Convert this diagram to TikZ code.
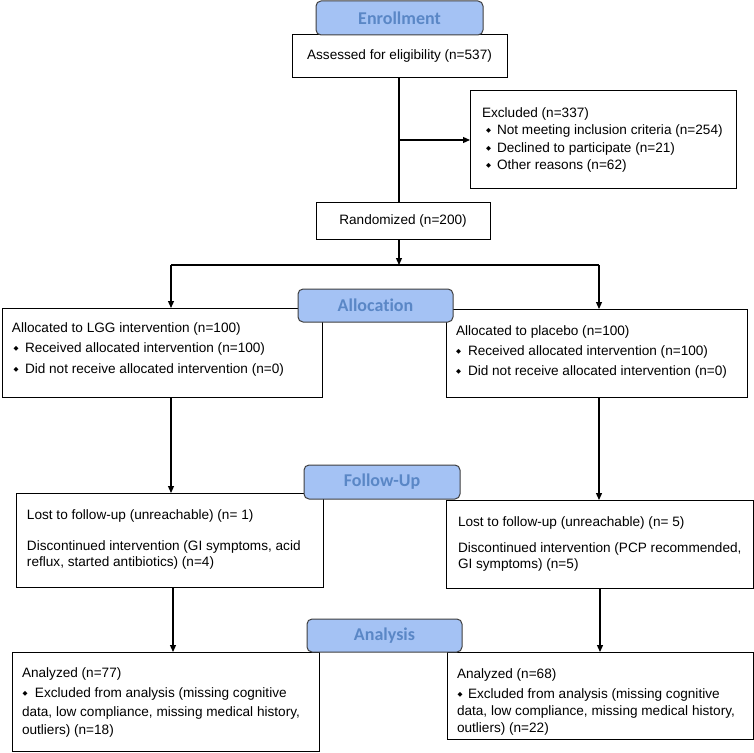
\documentclass[tikz,border=0pt]{standalone}
\usepackage{fontspec}
\setmainfont{Liberation Sans}
\newfontfamily\hdrfont[Ligatures=NoCommon]{Carlito}
\newfontfamily\symfont{DejaVu Sans}
\usetikzlibrary{arrows.meta,calc}
\definecolor{hdrfill}{HTML}{A4C2F4}
\definecolor{hdrtext}{HTML}{5A87C6}
\definecolor{hdrline}{HTML}{3F3F3F}
\newcommand{\bodyfont}{\fontsize{13.6}{16}\selectfont}
\newcommand{\bul}[1]{\makebox[#1][l]{\raisebox{1.3pt}{\symfont\fontsize{6.5}{6.5}\selectfont ◆}}}
\begin{document}
\begin{tikzpicture}[x=1pt,y=-1pt,
  box/.style={draw=black, line width=1pt, inner sep=0pt, outer sep=0pt, fill=white, anchor=north west, font=\bodyfont},
  hdr/.style={draw=hdrline, line width=1pt, fill=hdrfill, rounded corners=5pt, inner sep=0pt, outer sep=0pt, anchor=north west, font=\hdrfont\bfseries\fontsize{18}{18}\selectfont, text=hdrtext},
  txt/.style={anchor=base west, inner sep=0pt, outer sep=0pt, font=\bodyfont},
  ln/.style={line width=1.2pt},
  arr/.style={line width=1.2pt, -{Triangle[length=7pt,width=6pt]}}]
\useasboundingbox (0,0) rectangle (754,752);

% boxes
\node[box, minimum width=215pt, minimum height=42pt] (assess) at (292,35) {Assessed for eligibility (n=537)};
\node[box, minimum width=266pt, minimum height=98pt] (excl) at (470,90) {};
\node[box, minimum width=174pt, minimum height=37pt] (rand) at (316,202) {Randomized (n=200)};
\node[box, minimum width=320pt, minimum height=89pt] (allocL) at (2,308) {};
\node[box, minimum width=301pt, minimum height=88pt] (allocR) at (446,309) {};
\node[box, minimum width=307pt, minimum height=94pt] (fuL) at (16,493) {};
\node[box, minimum width=307pt, minimum height=88pt] (fuR) at (446,500) {};
\node[box, minimum width=307pt, minimum height=99pt] (anL) at (12,652) {};
\node[box, minimum width=306pt, minimum height=87pt] (anR) at (447,652) {};

% texts
\node[txt] (ex1) at (482,117) {Excluded (n=337)};
\node[txt] (ex2) at (486,134) {\bul{11pt}Not meeting inclusion criteria (n=254)};
\node[txt] (ex3) at (486,152) {\bul{11pt}Declined to participate (n=21)};
\node[txt] (ex4) at (486,169) {\bul{11pt}Other reasons (n=62)};

\node[txt] (al1) at (12,332) {Allocated to LGG intervention (n=100)};
\node[txt] (al2) at (13.5,352) {\bul{11.5pt}Received allocated intervention (n=100)};
\node[txt] (al3) at (13.5,373) {\bul{11.5pt}Did not receive allocated intervention (n=0)};

\node[txt] (ar1) at (456,335) {Allocated to placebo (n=100)};
\node[txt] (ar2) at (456,355) {\bul{12pt}Received allocated intervention (n=100)};
\node[txt] (ar3) at (456,375) {\bul{12pt}Did not receive allocated intervention (n=0)};

\node[txt] (fl1) at (27,519) {Lost to follow-up (unreachable) (n= 1)};
\node[txt] (fl2) at (27,550) {Discontinued intervention (GI symptoms, acid};
\node[txt] (fl3) at (27,566) {reflux, started antibiotics) (n=4)};

\node[txt] (fr1) at (458,526) {Lost to follow-up (unreachable) (n= 5)};
\node[txt] (fr2) at (458,552) {Discontinued intervention (PCP recommended,};
\node[txt] (fr3) at (458,568) {GI symptoms) (n=5)};

\node[txt] (nl1) at (22,677) {Analyzed (n=77)};
\node[txt] (nl2) at (22.5,697) {\bul{12.5pt}Excluded from analysis (missing cognitive};
\node[txt] (nl3) at (22,716) {data, low compliance, missing medical history,};
\node[txt] (nl4) at (22,734) {outliers) (n=18)};

\node[txt] (nr1) at (457,678) {Analyzed (n=68)};
\node[txt] (nr2) at (457.5,698) {\bul{10.5pt}Excluded from analysis (missing cognitive};
\node[txt] (nr3) at (457,715) {data, low compliance, missing medical history,};
\node[txt] (nr4) at (457,732) {outliers) (n=22)};

% headers
\node[hdr, minimum width=167pt, minimum height=34pt] (hEnr) at (316,1) {Enrollment};
\node[hdr, minimum width=155pt, minimum height=33pt] (hAll) at (298,289) {Allocation};
\node[hdr, minimum width=156pt, minimum height=34pt] (hFu) at (304,465) {Follow-Up};
\node[hdr, minimum width=155pt, minimum height=33pt] (hAn) at (307,619) {Analysis};

% connectors
\coordinate (xm) at (399,0);
\coordinate (exc) at (399,140);
\coordinate (split) at (399,265);
\coordinate (brL) at (171,265);
\coordinate (brR) at (599,265);
\coordinate (cL2) at (173,0);
\coordinate (cR2) at (600,0);
\draw[ln] (assess.south -| xm) -- (rand.north -| xm);
\draw[arr] (exc) -- (excl.west |- exc);
\draw[arr] (rand.south -| xm) -- (split);
\draw[ln] (brL) -- (brR);
\draw[arr] (brL) -- (allocL.north -| brL);
\draw[arr] (brR) -- (allocR.north -| brR);
\draw[arr] (allocL.south -| brL) -- (fuL.north -| brL);
\draw[arr] (allocR.south -| brR) -- (fuR.north -| brR);
\draw[arr] (fuL.south -| cL2) -- (anL.north -| cL2);
\draw[arr] (fuR.south -| cR2) -- (anR.north -| cR2);
\end{tikzpicture}
\end{document}
